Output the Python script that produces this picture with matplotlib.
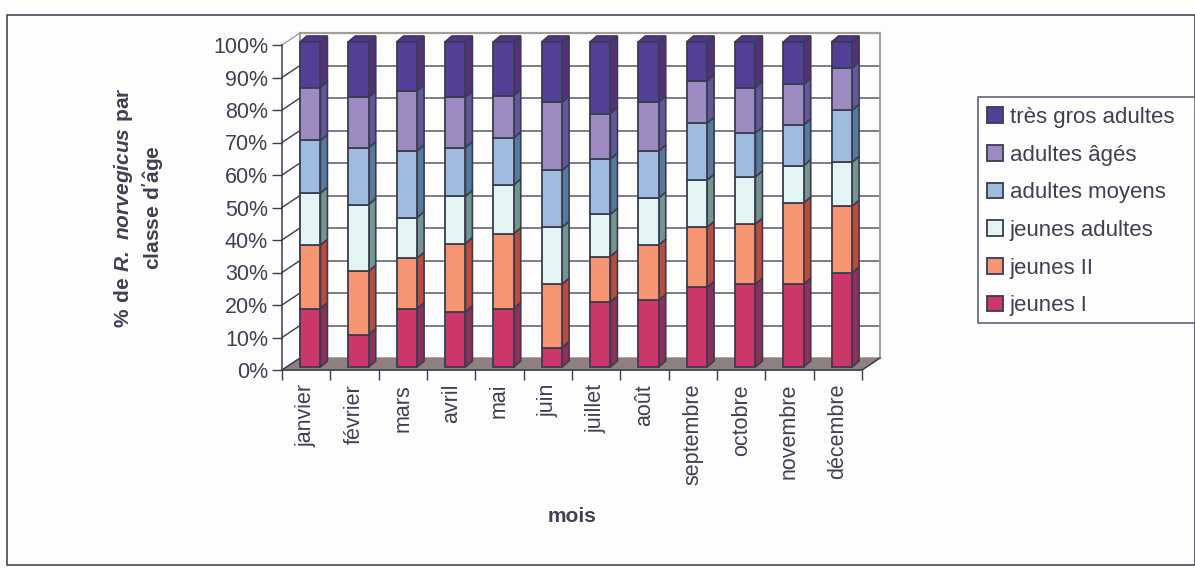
import matplotlib
matplotlib.use("Agg")
import numpy as np
from matplotlib import pyplot as plt
from matplotlib.patches import Patch, Rectangle

plt.rcParams['font.family'] = ['Liberation Sans', 'DejaVu Sans']
plt.rcParams['mathtext.fontset'] = 'custom'
plt.rcParams['mathtext.bf'] = 'Liberation Sans:bold'
plt.rcParams['mathtext.bfit'] = 'Liberation Sans:italic:bold'

mois = ["janvier", "février", "mars", "avril", "mai", "juin", "juillet", "août",
        "septembre", "octobre", "novembre", "décembre"]
classes = ["jeunes I", "jeunes II", "jeunes adultes", "adultes moyens", "adultes âgés", "très gros adultes"]

jeunes_1 = [18, 10, 18, 17, 18, 6, 20, 20.5, 24.5, 25.5, 25.5, 29]
jeunes_2 = [19.5, 19.5, 15.5, 21, 23, 19.5, 14, 17, 18.5, 18.5, 25, 20.5]
jeunes_adultes = [16, 20.5, 12.5, 14.5, 15, 17.5, 13, 14.5, 14.5, 14.5, 11.5, 13.5]
adultes_moyens = [16.2, 17.5, 20.5, 15, 14.5, 17.5, 17, 14.5, 17.5, 13.5, 12.5, 16]
adultes_ages = [16.3, 15.5, 18.5, 15.5, 13, 21, 14, 15, 13, 14, 12.5, 13]
tres_gros = [14, 17, 15, 17, 16.5, 18.5, 22, 18.5, 12, 14, 13, 8]
series = [jeunes_1, jeunes_2, jeunes_adultes, adultes_moyens, adultes_ages, tres_gros]

front_cols = ["#cb3768", "#f79572", "#e3f5f3", "#9fbbe0", "#9b8bc0", "#523f98"]
side_cols = ["#90305a", "#bb4c3a", "#74958f", "#567a9c", "#63569a", "#54307a"]
top_col = "#4f3490"
edge = "#3a3c50"
txt = "#3f4152"
wall = "#a59c9c"

W, H = 1195, 569
PX_X = 580 / 12   # pixels per category
PX_Y = 325 / 100  # pixels per percent

fig = plt.figure(figsize=(W / 100, H / 100), dpi=100, facecolor="#fdfdfd")
fig.add_artist(Rectangle((7 / W, 1 - 565 / H), 1188 / W, 550 / H, transform=fig.transFigure,
                         fill=False, ec="#45475a", lw=1.2))

ax = fig.add_axes([282 / W, 1 - 370 / H, 580 / W, 325 / H])
ax.set_xlim(0, 12)
ax.set_ylim(0, 100)
ax.patch.set_alpha(0)
for s in ["top", "right"]:
    ax.spines[s].set_visible(False)
for s in ["left", "bottom"]:
    ax.spines[s].set_color(edge)
    ax.spines[s].set_linewidth(1.1)

# back wall offset
bx = 18 / PX_X
by = 12 / PX_Y

# floor
ax.fill([0, bx, 12 + bx, 12], [0, by, by, 0], color="#8f8080", zorder=1, clip_on=False)

# walls and gridlines
yt = np.arange(0, 101, 10)
for v in yt:
    ax.plot([0, bx], [v, v + by], color=edge if v < 100 else wall, lw=1, zorder=1, clip_on=False)
    if v:
        ax.plot([bx, 12 + bx], [v + by, v + by], color="#5a5a66" if v < 100 else wall,
                lw=1.1, zorder=1, clip_on=False)
ax.plot([bx, bx], [by, 100 + by], color=wall, lw=1.4, zorder=1, clip_on=False)
ax.plot([12 + bx, 12 + bx], [by, 100 + by], color=wall, lw=1.4, zorder=1, clip_on=False)
ax.plot([bx, 12 + bx], [100 + by, 100 + by], color=wall, lw=1.6, zorder=1, clip_on=False)
ax.plot([12, 12 + bx], [0, by], color=edge, lw=1, zorder=1, clip_on=False)

# bars with their 3d side and top
pos = np.arange(12) + 0.5 + 4 / PX_X
bw = 20.5 / PX_X
sx = 7 / PX_X
sy = 6 / PX_Y
base = np.full(12, 3 / PX_Y)
for vals, fc, sc in zip(series, front_cols, side_cols):
    vals = np.array(vals)
    ax.bar(pos, vals, bw, bottom=base, color=fc, edgecolor=edge, lw=1.3, zorder=4, clip_on=False)
    for x, b, v in zip(pos, base, vals):
        r = x + bw / 2
        ax.fill([r, r + sx, r + sx, r], [b, b + sy, b + v + sy, b + v], fc=sc, ec=edge, lw=1.2,
                zorder=3, clip_on=False)
    base = base + vals
for x, b in zip(pos, base):
    l, r = x - bw / 2, x + bw / 2
    ax.fill([l, l + sx, r + sx, r], [b, b + sy, b + sy, b], fc=top_col, ec=edge, lw=1.2,
            zorder=3, clip_on=False)

# ticks
ax.set_yticks(yt)
ax.set_yticklabels([f"{v}%" for v in yt], fontsize=15.5, color=txt)
ax.tick_params(axis="y", length=7, width=1, color=edge, pad=3)
ax.set_xticks(np.arange(13))
ax.set_xticklabels([])
ax.tick_params(axis="x", length=7, width=1, color=edge)
ax.set_xticks(np.arange(12) + 0.5, labels=mois, minor=True, rotation=90, fontsize=15.5, color=txt)
ax.tick_params(axis="x", which="minor", length=0, pad=10)

# axis titles
fig.text(139 / W, 1 - 208 / H, r"$\mathbf{\%\ de}\ \mathbfit{R.\ norvegicus}\ \mathbf{par}$" + "\n"
         + r"$\mathbf{classe\ d'\hat{a}ge}$",
         rotation=90, ha="center", va="center", fontsize=15, color=txt, linespacing=1.3)
fig.text(572 / W, 1 - 516 / H, "mois", fontweight="bold", ha="center", va="center", fontsize=15, color=txt)

# legend
fig.add_artist(Rectangle((978 / W, 1 - 323 / H), 217 / W, 226 / H, transform=fig.transFigure,
                         fc="#fdfdfd", ec="#55566a", lw=1.1))
handles = [Patch(fc=c, ec=edge, lw=1.3) for c in front_cols][::-1]
leg = fig.legend(handles, classes[::-1], loc="upper left", bbox_to_anchor=(987 / W, 1 - 107 / H),
                 borderaxespad=0, borderpad=0, fontsize=16, labelcolor=txt, frameon=False,
                 handlelength=0.72, handleheight=0.72, handletextpad=0.3, labelspacing=0.75)

fig.savefig("out.png", dpi=100, facecolor=fig.get_facecolor())
